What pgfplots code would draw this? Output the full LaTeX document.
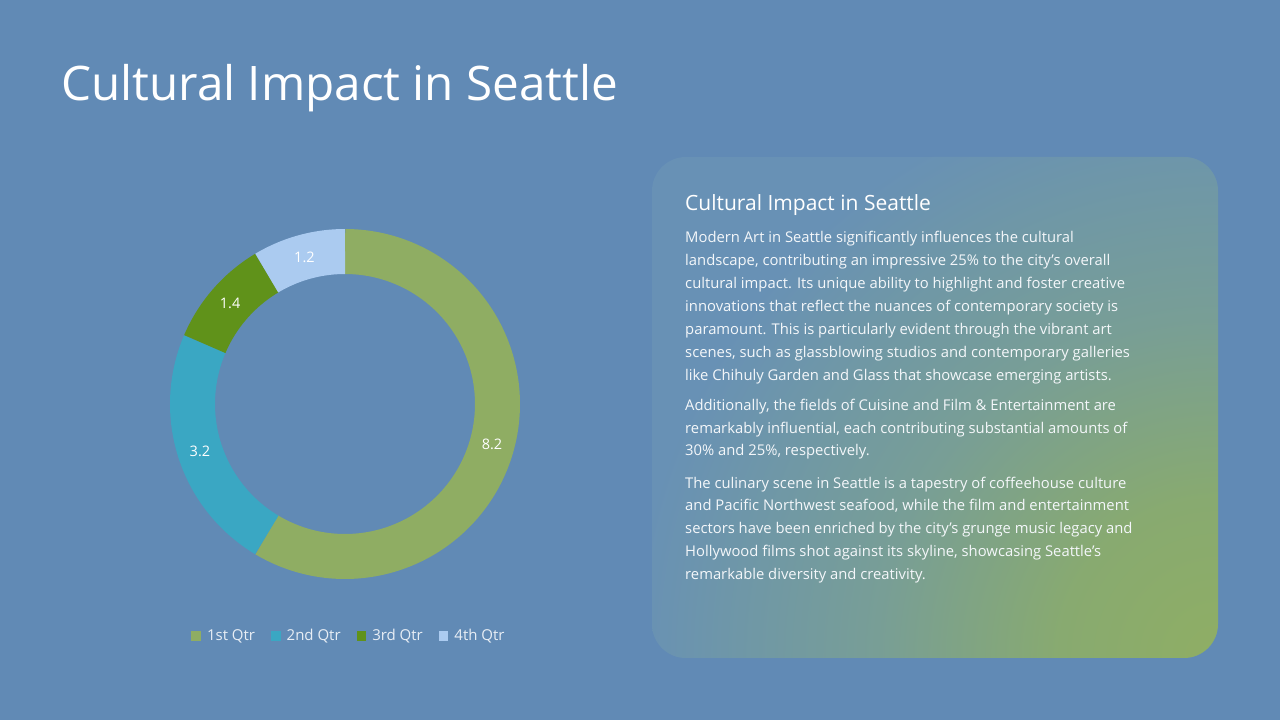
\documentclass[border=0pt]{standalone}
\usepackage{pgfplots}
\pgfplotsset{compat=1.18}
\usepackage{pgfplotstable}
\usepgfplotslibrary{polar}
\usepackage{fontspec}
\setmainfont{Open Sans}
\definecolor{bg}{RGB}{97,138,181}
\definecolor{c1}{RGB}{143,173,99}
\definecolor{c2}{RGB}{58,167,195}
\definecolor{c3}{RGB}{96,146,26}
\definecolor{c4}{RGB}{171,203,240}
\definecolor{panelblue}{RGB}{104,145,181}
\definecolor{pq}{RGB}{112,152,165}
\definecolor{pmid}{RGB}{120,158,150}
\definecolor{pg2}{RGB}{136,170,112}
\definecolor{pgreen}{RGB}{143,174,100}
\definecolor{bodytxt}{RGB}{244,247,250}
\definecolor{legtxt}{RGB}{232,238,245}
\pgfdeclareradialshading{glow}{\pgfpoint{0bp}{0bp}}{color(0bp)=(pgreen); color(6.5bp)=(pg2); color(14bp)=(pmid); color(19bp)=(pq); color(24bp)=(panelblue); color(50bp)=(panelblue)}

\pgfplotstableread{
label value
{1st Qtr} 8.2
{2nd Qtr} 3.2
{3rd Qtr} 1.4
{4th Qtr} 1.2
}\datatable

\pgfplotstablegetelem{0}{value}\of\datatable \let\va\pgfplotsretval
\pgfplotstablegetelem{1}{value}\of\datatable \let\vb\pgfplotsretval
\pgfplotstablegetelem{2}{value}\of\datatable \let\vc\pgfplotsretval
\pgfplotstablegetelem{3}{value}\of\datatable \let\vd\pgfplotsretval
\pgfmathsetmacro\total{\va+\vb+\vc+\vd}
\pgfmathsetmacro\aA{90}
\pgfmathsetmacro\aB{\aA-360*\va/\total}
\pgfmathsetmacro\aC{\aB-360*\vb/\total}
\pgfmathsetmacro\aD{\aC-360*\vc/\total}
\pgfmathsetmacro\aE{\aD-360*\vd/\total}
\pgfmathsetmacro\mA{(\aA+\aB)/2}
\pgfmathsetmacro\mB{(\aB+\aC)/2}
\pgfmathsetmacro\mC{(\aC+\aD)/2}
\pgfmathsetmacro\mD{(\aD+\aE)/2}

\newcommand\bodyline[2]{\node[anchor=base west, inner sep=0pt, text=bodytxt, font=\fontsize{14.8}{18}\selectfont] at (685pt,720pt-#1pt) {#2};}

\begin{document}
\begin{tikzpicture}
\useasboundingbox (0,0) rectangle (1280pt,720pt);
\fill[bg] (0,0) rectangle (1280pt,720pt);
% title
\node[anchor=base west, inner sep=0pt, text=white, font=\fontsize{47.6}{56}\selectfont] at (61pt,720pt-101pt) {Cultural Impact in Seattle};
% panel
\begin{scope}
\clip[rounded corners=34pt] (652pt,720pt-658pt) rectangle (1218pt,720pt-157pt);
\fill[panelblue] (652pt,720pt-658pt) rectangle (1218pt,720pt-157pt);
\shade[shading=glow] (1218pt,720pt-658pt) circle (610pt);
\end{scope}
\node[anchor=base west, inner sep=0pt, text=white, font=\fontsize{21}{26}\selectfont] at (685pt,720pt-211pt) {Cultural Impact in Seattle};
\bodyline{243}{Modern Art in Seattle significantly influences the cultural}
\bodyline{266}{landscape, contributing an impressive 25\% to the city's overall}
\bodyline{289}{cultural impact. Its unique ability to highlight and foster creative}
\bodyline{312}{innovations that reflect the nuances of contemporary society is}
\bodyline{335}{paramount. This is particularly evident through the vibrant art}
\bodyline{358}{scenes, such as glassblowing studios and contemporary galleries}
\bodyline{380.5}{like Chihuly Garden and Glass that showcase emerging artists.}
\bodyline{411}{Additionally, the fields of Cuisine and Film \& Entertainment are}
\bodyline{433.5}{remarkably influential, each contributing substantial amounts of}
\bodyline{456}{30\% and 25\%, respectively.}
\bodyline{488.5}{The culinary scene in Seattle is a tapestry of coffeehouse culture}
\bodyline{511}{and Pacific Northwest seafood, while the film and entertainment}
\bodyline{534}{sectors have been enriched by the city's grunge music legacy and}
\bodyline{557}{Hollywood films shot against its skyline, showcasing Seattle's}
\bodyline{580}{remarkable diversity and creativity.}
% donut
\begin{polaraxis}[
  at={(345pt,720pt-404pt)}, anchor=origin,
  width=350pt, height=350pt, scale only axis,
  xmin=0, xmax=360, ymin=0, ymax=175,
  hide axis, clip=false,
  legend columns=4,
  legend style={at={(0.5114,-0.163)}, anchor=center, draw=none, fill=none,
    text=legtxt, font=\fontsize{15}{18}\selectfont,
    /tikz/every odd column/.append style={column sep=4pt},
    /tikz/every even column/.append style={column sep=14pt}},
  legend image code/.code={\fill[#1, draw=none] (0pt,-4.8pt) rectangle (9.6pt,4.8pt);},
]
\addplot[color=c1, line width=45pt, domain=\aB:\aA, samples=150] {152.5};
\addlegendentry{1st Qtr}
\addplot[color=c2, line width=45pt, domain=\aC:\aB, samples=80] {152.5};
\addlegendentry{2nd Qtr}
\addplot[color=c3, line width=45pt, domain=\aD:\aC, samples=40] {152.5};
\addlegendentry{3rd Qtr}
\addplot[color=c4, line width=45pt, domain=\aE:\aD, samples=40] {152.5};
\addlegendentry{4th Qtr}
\node[text=white, font=\fontsize{14.5}{17}\selectfont] at (axis cs:\mA,152.5) {\va};
\node[text=white, font=\fontsize{14.5}{17}\selectfont] at (axis cs:\mB,152.5) {\vb};
\node[text=white, font=\fontsize{14.5}{17}\selectfont] at (axis cs:\mC,152.5) {\vc};
\node[text=white, font=\fontsize{14.5}{17}\selectfont] at (axis cs:\mD,152.5) {\vd};
\end{polaraxis}
\end{tikzpicture}
\end{document}
